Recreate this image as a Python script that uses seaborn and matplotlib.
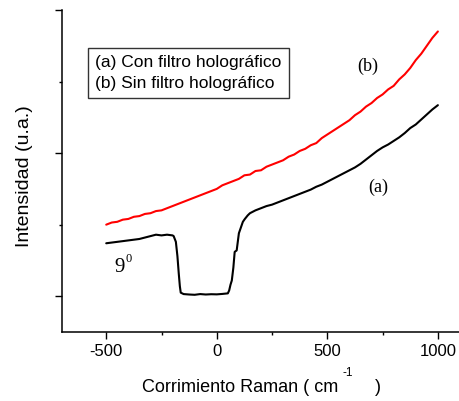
import matplotlib
matplotlib.use("Agg")
import matplotlib.pyplot as plt
from matplotlib.lines import Line2D
from matplotlib.ticker import MultipleLocator, NullFormatter
import pandas as pd
import seaborn as sns

# Raman shift (cm^-1) and intensity (a.u.) for the two spectra
shift_b = [-500, -475, -450, -425, -400, -375, -350, -325, -300, -275, -250,
           -225, -200, -175, -150, -125, -100, -75, -50, -25, 0, 25, 50, 75,
           100, 125, 150, 175, 200, 225, 250, 275, 300, 325, 350, 375, 400,
           425, 450, 475, 500, 525, 550, 575, 600, 625, 650, 675, 700, 725,
           750, 775, 800, 825, 850, 875, 900, 925, 950, 975, 1000]
sin_filtro = [0.50, 0.515, 0.52, 0.535, 0.54, 0.555, 0.56, 0.575, 0.58, 0.595,
              0.60, 0.615, 0.63, 0.645, 0.66, 0.675, 0.69, 0.705, 0.72, 0.735,
              0.75, 0.775, 0.79, 0.805, 0.82, 0.845, 0.85, 0.875, 0.88, 0.905,
              0.92, 0.935, 0.95, 0.975, 0.99, 1.015, 1.03, 1.055, 1.07, 1.105,
              1.13, 1.155, 1.18, 1.205, 1.23, 1.265, 1.29, 1.325, 1.35, 1.385,
              1.41, 1.445, 1.47, 1.515, 1.55, 1.595, 1.65, 1.695, 1.75, 1.805,
              1.85]

shift_a = [-500, -475, -450, -425, -400, -375, -350, -325, -300, -275, -250,
           -225, -200, -195, -185, -178, -172, -167, -163, -150, -125, -100,
           -75, -50, -25, 0, 25, 50, 56, 62, 68, 75, 81, 90, 100, 109, 118,
           127, 140, 150, 175, 200, 225, 250, 275, 300, 325, 350, 375, 400,
           425, 450, 475, 500, 525, 550, 575, 600, 625, 650, 675, 700, 725,
           750, 775, 800, 825, 850, 875, 900, 925, 950, 975, 1000]
con_filtro = [0.37, 0.375, 0.38, 0.385, 0.39, 0.395, 0.40, 0.41, 0.42, 0.43,
              0.425, 0.43, 0.425, 0.42, 0.38, 0.28, 0.16, 0.07, 0.025, 0.015,
              0.012, 0.01, 0.015, 0.012, 0.014, 0.013, 0.016, 0.02, 0.04,
              0.08, 0.11, 0.20, 0.31, 0.32, 0.44, 0.48, 0.52, 0.54, 0.565,
              0.58, 0.60, 0.615, 0.63, 0.64, 0.655, 0.67, 0.685, 0.70, 0.715,
              0.73, 0.745, 0.765, 0.78, 0.80, 0.82, 0.84, 0.86, 0.88, 0.90,
              0.925, 0.955, 0.985, 1.015, 1.04, 1.06, 1.085, 1.11, 1.14, 1.175,
              1.20, 1.235, 1.27, 1.305, 1.335]

df = pd.concat([
    pd.DataFrame({"shift": shift_a, "intensity": con_filtro, "serie": "a"}),
    pd.DataFrame({"shift": shift_b, "intensity": sin_filtro, "serie": "b"}),
])

sns.set_theme(style="ticks")
plt.rcParams["font.family"] = ["Liberation Sans", "DejaVu Sans"]
plt.rcParams["axes.unicode_minus"] = False

fig = plt.figure(figsize=(4.6, 4.01), dpi=100)
ax = fig.add_axes([62 / 460, 1 - 332 / 401, 398 / 460, 322 / 401])

sns.lineplot(data=df, x="shift", y="intensity", hue="serie",
             palette={"a": "black", "b": "red"}, estimator=None,
             linewidth=1.5, legend=False, ax=ax)

ax.set_xlim(-700, 1100)
ax.set_ylim(-0.25, 2.0)
ax.xaxis.set_major_locator(MultipleLocator(500))
ax.xaxis.set_minor_locator(MultipleLocator(250))
ax.yaxis.set_major_locator(MultipleLocator(1))
ax.yaxis.set_minor_locator(MultipleLocator(0.5))
ax.yaxis.set_major_formatter(NullFormatter())
ax.tick_params(axis="both", which="major", length=5, width=1.0,
               direction="out", color="black", labelsize=12, labelcolor="black")
ax.tick_params(axis="both", which="minor", length=2.5, width=1.0,
               direction="out", color="black")
ax.tick_params(axis="x", pad=4)

for side in ("top", "right"):
    ax.spines[side].set_visible(False)
for side in ("left", "bottom"):
    ax.spines[side].set_color("black")
    ax.spines[side].set_linewidth(1.1)

# axis titles; the -1 exponent is set as a small raised text
ax.set_xlabel("")
ax.set_ylabel("")
fig.text(142 / 460, 1 - 388 / 401, "Corrimiento Raman ( cm",
         fontsize=13, ha="left", va="center", color="black")
fig.text(348 / 460, 1 - 373 / 401, "-1", fontsize=8.5,
         ha="center", va="center", color="black")
fig.text(378 / 460, 1 - 388 / 401, ")", fontsize=13,
         ha="center", va="center", color="black")
fig.text(25 / 460, 1 - 176 / 401, "Intensidad (u.a.)", fontsize=14,
         rotation=90, ha="center", va="center", color="black")

handles = [Line2D([], [], color="none", label="(a) Con filtro holográfico"),
           Line2D([], [], color="none", label="(b) Sin filtro holográfico")]
leg = ax.legend(handles=handles, loc="upper left",
                bbox_to_anchor=(88 / 460, 1 - 48 / 401),
                bbox_transform=fig.transFigure, handlelength=0,
                handletextpad=0, fontsize=12.5, frameon=True, fancybox=False,
                borderpad=0.42, labelspacing=0.3, borderaxespad=0)
leg.get_frame().set_edgecolor("black")
leg.get_frame().set_linewidth(1.0)
for t in leg.get_texts():
    t.set_color("black")

serif = ["Liberation Serif", "DejaVu Serif"]
fig.text(368 / 460, 1 - 66 / 401, "(b)", family=serif, fontsize=13,
         ha="center", va="center", color="black")
fig.text(378 / 460, 1 - 187 / 401, "(a)", family=serif, fontsize=13,
         ha="center", va="center", color="black")
fig.text(120 / 460, 1 - 268 / 401, "9", family=serif, fontsize=15,
         ha="center", va="center", color="black")
fig.text(128.5 / 460, 1 - 259 / 401, "0", family=serif, fontsize=9,
         ha="center", va="center", color="black")

fig.savefig("out.png", dpi=100)
